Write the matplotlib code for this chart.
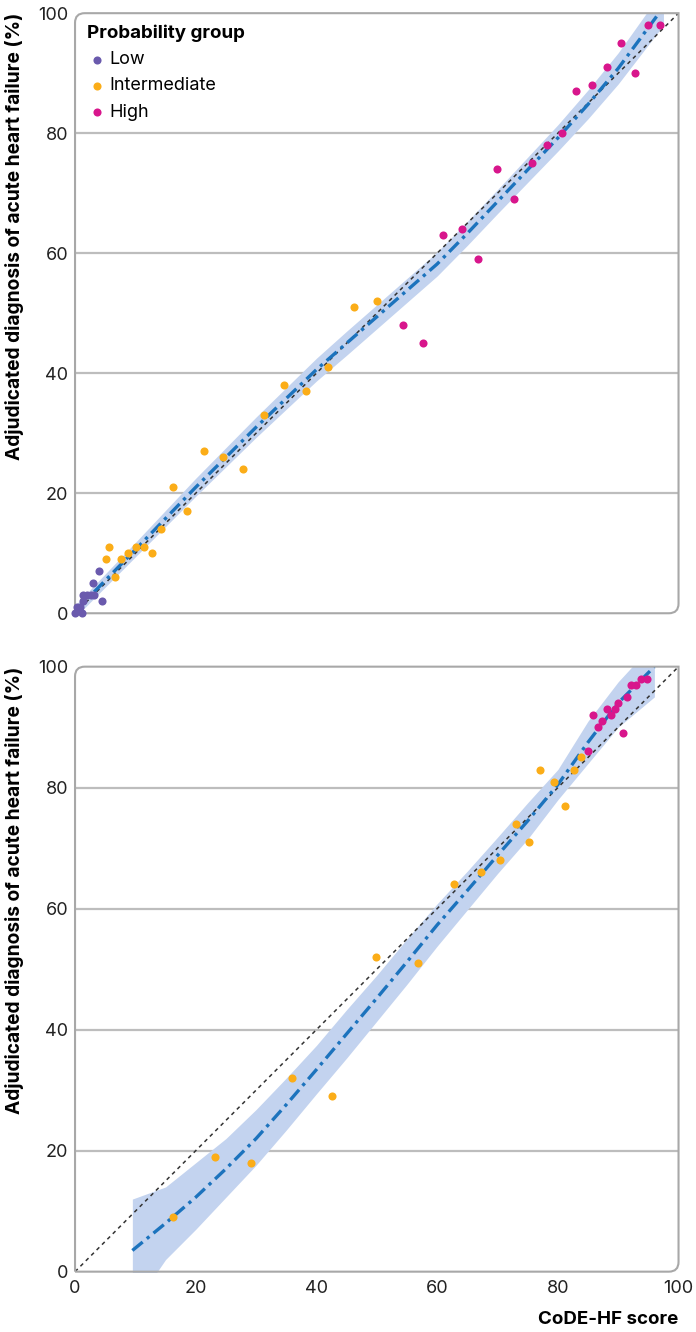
import numpy as np
import matplotlib
matplotlib.use('Agg')
import matplotlib.pyplot as plt
from matplotlib.path import Path
from matplotlib.patches import PathPatch


plt.rcParams['font.family'] = ['Inter', 'DejaVu Sans']
plt.rcParams['font.size'] = 13


# ---- top panel: derivation ----
low_x_1 = [0.0, 1.1, 0.3, 0.8, 1.3, 1.4, 2.0, 2.6, 3.2, 3.0, 3.9, 4.4, 0.6]
low_y_1 = [0, 0, 1, 1, 2, 3, 3, 3, 3, 5, 7, 2, 0.5]

int_x_1 = [5.1, 5.7, 6.6, 7.7, 8.8, 10.1, 11.4, 12.8, 14.3, 16.2, 18.5,
           21.3, 24.6, 27.8, 31.3, 34.6, 38.3, 41.9, 46.3, 50.1]
int_y_1 = [9, 11, 6, 9, 10, 11, 11, 10, 14, 21, 17,
           27, 26, 24, 33, 38, 37, 41, 51, 52]

high_x_1 = [54.3, 57.7, 60.9, 64.1, 66.8, 70.0, 72.8, 75.8, 78.2, 80.7,
            83.0, 85.6, 88.2, 90.5, 92.8, 95.0, 97.0]
high_y_1 = [48, 45, 63, 64, 59, 74, 69, 75, 78, 80,
            87, 88, 91, 95, 90, 98, 98]

fit_x_1 = [0, 10, 20, 30, 40, 45, 50, 55, 60, 65, 70, 75, 80, 85, 90, 97.5]
fit_y_1 = [0.3, 10.6, 21.0, 31.0, 40.6, 45.0, 49.4, 53.8, 58.2, 63.3,
           68.6, 73.9, 79.2, 84.8, 90.8, 101.0]
fit_lo_1 = [-0.7, 9.4, 19.5, 29.3, 38.7, 43.0, 47.4, 51.8, 56.2, 61.3,
            66.6, 71.8, 77.0, 82.4, 88.2, 98.0]
fit_hi_1 = [1.3, 11.8, 22.5, 32.7, 42.5, 47.0, 51.4, 55.8, 60.2, 65.3,
            70.6, 76.0, 81.4, 87.2, 93.4, 104.0]

# ---- bottom panel: validation ----
int_x_2 = [16.2, 23.2, 29.1, 36.0, 42.6, 49.8, 56.9, 62.8, 67.3, 70.5,
           73.1, 75.3, 77.1, 79.3, 81.2, 82.6, 83.9]
int_y_2 = [9, 19, 18, 32, 29, 52, 51, 64, 66, 68,
           74, 71, 83, 81, 77, 83, 85]

high_x_2 = [85.0, 85.8, 86.7, 87.4, 88.2, 88.8, 89.5, 90.0, 90.8, 91.5,
            92.1, 92.9, 93.8, 94.8]
high_y_2 = [86, 92, 90, 91, 93, 92, 93, 94, 89, 95,
            97, 97, 98, 98]

fit_x_2 = [9.5, 15, 20, 25, 30, 35, 40, 45, 50, 55, 60, 65, 70, 75, 80, 85, 90, 96]
fit_y_2 = [3.5, 8.0, 12.3, 17.0, 22.0, 27.6, 33.4, 39.3, 45.2, 51.2,
           57.3, 63.0, 68.8, 74.5, 80.5, 87.5, 94.0, 100.0]
fit_lo_2 = [-6.0, 2.0, 7.0, 12.3, 17.6, 23.4, 29.4, 35.3, 41.4, 47.5,
            53.8, 59.8, 65.8, 71.5, 78.0, 84.0, 90.0, 95.0]
fit_hi_2 = [12.0, 14.0, 18.0, 22.0, 26.8, 32.0, 37.4, 43.3, 49.0, 55.0,
            60.8, 66.2, 71.8, 77.5, 83.0, 91.0, 97.5, 104.0]

ticks = [0, 20, 40, 60, 80, 100]

c_low = '#6a5aad'
c_int = '#fbad18'
c_high = '#d8168c'
c_fit = '#1c73bd'
c_band = '#c3d3ef'
c_grid = '#bdbdbd'
c_axis = '#a8a8a8'


def rounded_frame(ax, r=0.016):
    verts = [(0, 0), (0, 1 - r), (0, 1), (r, 1), (1, 1), (1, r), (1, 0),
             (1 - r, 0), (0, 0)]
    codes = [Path.MOVETO, Path.LINETO, Path.CURVE3, Path.CURVE3, Path.LINETO,
             Path.LINETO, Path.CURVE3, Path.CURVE3, Path.LINETO]
    patch = PathPatch(Path(verts, codes), transform=ax.transAxes,
                      fill=False, edgecolor=c_axis, lw=1.5, clip_on=False,
                      zorder=3.5)
    ax.add_patch(patch)


def style(ax, show_x):
    ax.set_xlim(0, 100)
    ax.set_ylim(0, 100)
    for s in ax.spines.values():
        s.set_visible(False)
    rounded_frame(ax)
    ax.set_yticks(ticks)
    ax.set_xticks(ticks)
    ax.set_xticks([20, 40, 60, 80], minor=True)
    for y in [20, 40, 60, 80]:
        ax.axhline(y, color=c_grid, lw=1.6, zorder=0)
    ax.tick_params(axis='y', length=0, pad=5, labelsize=13, colors='#222222')
    ax.tick_params(axis='x', which='major', length=0, pad=6, labelsize=13,
                   colors='#222222', labelbottom=show_x)
    ax.tick_params(axis='x', which='minor', length=8, width=1.3,
                   direction='in', color=c_axis)
    ax.set_ylabel('Adjudicated diagnosis of acute heart failure (%)',
                  fontweight='bold', fontsize=13.8, loc='top')
    ax.yaxis.set_label_coords(-0.085, 1.0)


def draw(ax, fx, fy, flo, fhi):
    ax.fill_between(fx, flo, fhi, color=c_band, lw=0, zorder=1)
    ax.plot([0, 100], [0, 100], color='#333333', lw=1.1,
            dashes=(2.5, 2.5), zorder=2)
    ax.plot(fx, fy, color=c_fit, lw=2.4, dashes=(4, 1.6, 1, 1.6), zorder=3)


fig = plt.figure(figsize=(6.96, 13.32), dpi=100)
ax1 = fig.add_axes([0.1078, 0.5396, 0.8671, 0.4505])
ax2 = fig.add_axes([0.1078, 0.0453, 0.8671, 0.4542])

# top
draw(ax1, fit_x_1, fit_y_1, fit_lo_1, fit_hi_1)
ax1.scatter(low_x_1, low_y_1, s=34, color=c_low, lw=0, zorder=4, label='Low',
            clip_on=False)
ax1.scatter(int_x_1, int_y_1, s=34, color=c_int, lw=0, zorder=4,
            label='Intermediate', clip_on=False)
ax1.scatter(high_x_1, high_y_1, s=34, color=c_high, lw=0, zorder=4,
            label='High', clip_on=False)
style(ax1, False)
leg = ax1.legend(loc='upper left', frameon=False, title='Probability group',
                 alignment='left', fontsize=13, handletextpad=0.15,
                 labelspacing=0.5, borderaxespad=0.4, handlelength=1.1,
                 markerscale=1.0, borderpad=0.25)
leg.get_title().set_fontweight('bold')
leg.get_title().set_fontsize(13.5)

# bottom
draw(ax2, fit_x_2, fit_y_2, fit_lo_2, fit_hi_2)
ax2.scatter(int_x_2, int_y_2, s=34, color=c_int, lw=0, zorder=4, clip_on=False)
ax2.scatter(high_x_2, high_y_2, s=34, color=c_high, lw=0, zorder=4,
            clip_on=False)
style(ax2, True)
ax2.set_xlabel('CoDE-HF score', fontweight='bold', fontsize=13.5, loc='right',
               labelpad=10)

fig.savefig('out.png', dpi=100)
